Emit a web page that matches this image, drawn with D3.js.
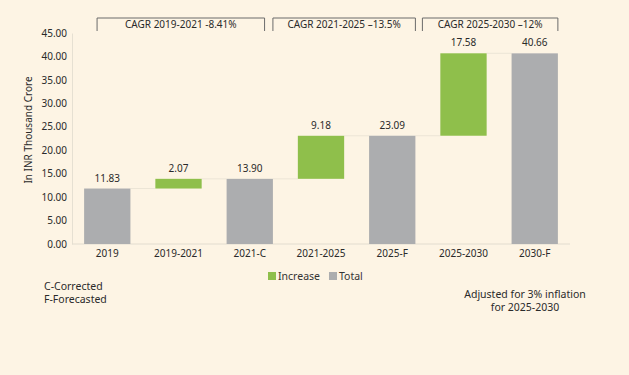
<!DOCTYPE html>
<html>
<head>
<meta charset="utf-8">
<script src="https://cdn.jsdelivr.net/npm/d3@7"></script>
<style>
  html, body { margin: 0; padding: 0; background: #fdf4e4; }
  svg { display: block; font-family: "Noto Sans", sans-serif; }
</style>
</head>
<body>
<div id="chart"></div>
<script>
// waterfall data
const categories = ['2019', '2019-2021', '2021-C', '2021-2025', '2025-F', '2025-2030', '2030-F'];
const values = [11.83, 2.07, 13.90, 9.18, 23.09, 17.58, 40.66];
const kinds = ['total', 'increase', 'total', 'increase', 'total', 'increase', 'total'];
const yTicks = [0, 5, 10, 15, 20, 25, 30, 35, 40, 45];
const cagrLabels = ['CAGR 2019-2021 -8.41%', 'CAGR 2021-2025 \u201313.5%', 'CAGR 2025-2030 \u201312%'];
const cagrFrom = ['2019', '2021-C', '2025-F'];
const cagrTo = ['2021-C', '2025-F', '2030-F'];
const legendItems = ['Increase', 'Total'];

const W = 629, H = 375;
const colors = { increase: '#8fbf4b', total: '#acadaf' };

const svg = d3.select('#chart').append('svg')
  .attr('width', W).attr('height', H);

svg.append('rect').attr('width', W).attr('height', H).attr('fill', '#fdf4e4');

const x = d3.scaleBand()
  .domain(categories)
  .range([72, 570])
  .paddingInner(0.35)
  .paddingOuter(0.17);

const y = d3.scaleLinear().domain([0, 45]).range([244, 33]);

// running base for the increase bars
let running = 0;
const bars = categories.map((c, i) => {
  let y0, y1;
  if (kinds[i] === 'total') { y0 = 0; y1 = values[i]; running = values[i]; }
  else { y0 = running; y1 = running + values[i]; running = y1; }
  return { cat: c, value: values[i], kind: kinds[i], y0, y1 };
});

// y axis
const yAxis = d3.axisLeft(y).tickValues(yTicks).tickFormat(d3.format('.2f')).tickSize(0).tickPadding(5);
const gy = svg.append('g').attr('transform', 'translate(72,0)').call(yAxis);
gy.select('.domain').attr('stroke', '#e6e0d2');
gy.selectAll('text').attr('font-size', 10).attr('fill', '#2a2a2a').attr('font-family', '"Noto Sans", sans-serif');

// baseline + x labels
const xAxis = d3.axisBottom(x).tickSize(0).tickPadding(6);
const gx = svg.append('g').attr('transform', `translate(0,${y(0)})`).call(xAxis);
gx.select('.domain').attr('stroke', '#e2dccf').attr('d', `M72,0H570`);
gx.selectAll('text').attr('font-size', 10).attr('fill', '#2a2a2a').attr('font-family', '"Noto Sans", sans-serif');

// axis title
svg.append('text')
  .attr('transform', `translate(32,130) rotate(-90)`)
  .attr('text-anchor', 'middle')
  .attr('font-size', 10).attr('fill', '#2a2a2a')
  .text('In INR Thousand Crore');

// connector lines
const conn = svg.append('g');
for (let i = 0; i < bars.length - 1; i++) {
  const lvl = bars[i].y1;
  conn.append('line')
    .attr('x1', x(bars[i].cat) + x.bandwidth())
    .attr('x2', x(bars[i + 1].cat))
    .attr('y1', y(lvl)).attr('y2', y(lvl))
    .attr('stroke', '#ece5d6').attr('stroke-width', 1);
}

// bars
svg.append('g').selectAll('rect')
  .data(bars)
  .join('rect')
  .attr('x', d => x(d.cat))
  .attr('width', x.bandwidth())
  .attr('y', d => y(d.y1))
  .attr('height', d => y(d.y0) - y(d.y1))
  .attr('fill', d => colors[d.kind]);

// value labels
svg.append('g').selectAll('text')
  .data(bars)
  .join('text')
  .attr('x', d => x(d.cat) + x.bandwidth() / 2)
  .attr('y', d => y(d.y1) - 7)
  .attr('text-anchor', 'middle')
  .attr('font-size', 10).attr('fill', '#2a2a2a')
  .text(d => d3.format('.2f')(d.value));

// CAGR brackets
const bw = x.bandwidth();
const bracketStart = [x(cagrFrom[0]) + bw * 0.28, x(cagrFrom[1]) + bw, x(cagrFrom[2]) + bw + 7];
const bracketEnd = [x(cagrTo[0]) + bw * 0.82, x(cagrTo[1]) + bw, x(cagrTo[2]) + bw];
cagrLabels.forEach((lab, i) => {
  const x1 = bracketStart[i], x2 = bracketEnd[i];
  svg.append('path')
    .attr('d', `M${x1},31V18H${x2}V31`)
    .attr('fill', 'none').attr('stroke', '#6b6b6b').attr('stroke-width', 1);
  svg.append('text')
    .attr('x', (x1 + x2) / 2).attr('y', 28)
    .attr('text-anchor', 'middle')
    .attr('font-size', 10).attr('fill', '#2a2a2a')
    .text(lab);
});

// legend
const lg = svg.append('g').attr('transform', 'translate(268,272)');
let lx = 0;
legendItems.forEach((name, i) => {
  const key = i === 0 ? 'increase' : 'total';
  lg.append('rect').attr('x', lx).attr('y', 0).attr('width', 8).attr('height', 8).attr('fill', colors[key]);
  const t = lg.append('text').attr('x', lx + 10).attr('y', 8)
    .attr('font-size', 10.5).attr('fill', '#333').text(name);
  lx += 10 + t.node().getComputedTextLength() + 9;
});

// notes
const notes = svg.append('g').attr('font-size', 10.5).attr('fill', '#2a2a2a');
notes.append('text').attr('x', 44).attr('y', 290).text('C-Corrected');
notes.append('text').attr('x', 44).attr('y', 302.5).text('F-Forecasted');
notes.append('text').attr('x', 525).attr('y', 298).attr('text-anchor', 'middle').text('Adjusted for 3% inflation');
notes.append('text').attr('x', 525).attr('y', 310.5).attr('text-anchor', 'middle').text('for 2025-2030');
</script>
</body>
</html>
